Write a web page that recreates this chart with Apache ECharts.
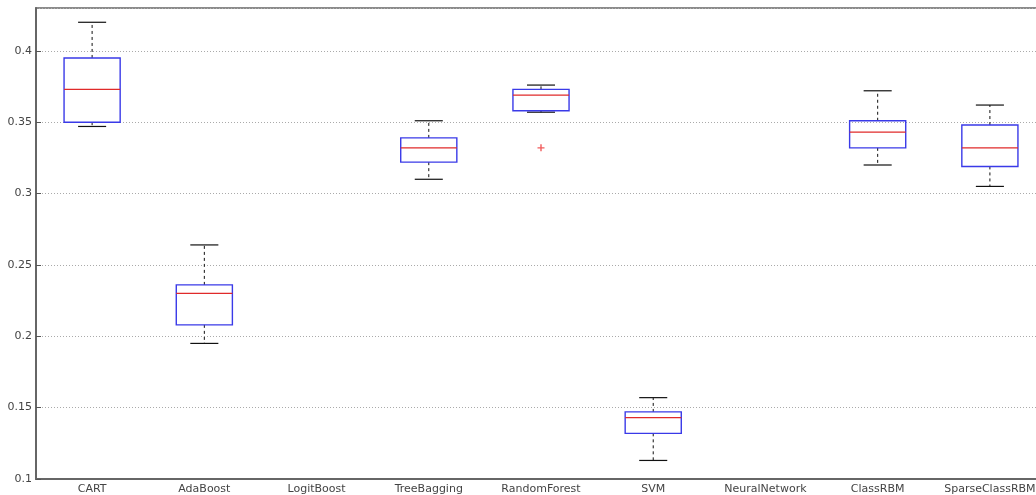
<!DOCTYPE html>
<html>
<head>
<meta charset="utf-8">
<script src="https://cdn.jsdelivr.net/npm/echarts@6/dist/echarts.min.js"></script>
<style>
  html, body { margin: 0; padding: 0; background: #fff; overflow: hidden; width: 1036px; height: 495px; }
  /* plot box runs a little past the right edge of the page */
  #chart { width: 1046px; height: 495px; }
</style>
</head>
<body>
<div id="chart"></div>
<script>
// Classifier error rates: five-number summaries per method
const categories = ['CART', 'AdaBoost', 'LogitBoost', 'TreeBagging', 'RandomForest', 'SVM', 'NeuralNetwork', 'ClassRBM', 'SparseClassRBM'];
const lowerWhisker = [0.347, 0.195, null, 0.310, 0.357, 0.113, null, 0.320, 0.305];
const q1           = [0.350, 0.208, null, 0.322, 0.358, 0.132, null, 0.332, 0.319];
const median       = [0.373, 0.230, null, 0.332, 0.369, 0.143, null, 0.343, 0.332];
const q3           = [0.395, 0.236, null, 0.339, 0.373, 0.147, null, 0.351, 0.348];
const upperWhisker = [0.420, 0.264, null, 0.351, 0.376, 0.157, null, 0.372, 0.362];
// outliers as [category index, value]
const outliers = [[4, 0.332]];
const yTicks = { min: 0.1, max: 0.43, step: 0.05 };

const boxData = [];
categories.forEach((c, i) => {
  if (median[i] == null) return;
  boxData.push([i, lowerWhisker[i], q1[i], median[i], q3[i], upperWhisker[i]]);
});

function renderBox(params, api) {
  const i = api.value(0);
  const pLo = api.coord([i, api.value(1)]);
  const pQ1 = api.coord([i, api.value(2)]);
  const pMed = api.coord([i, api.value(3)]);
  const pQ3 = api.coord([i, api.value(4)]);
  const pHi = api.coord([i, api.value(5)]);
  const band = api.size([1, 0])[0];
  const bw = band * 0.5;
  const cw = bw * 0.5;
  const cx = pMed[0];
  const dash = { stroke: '#111', lineWidth: 1, lineDash: [3, 3] };
  const solid = { stroke: '#111', lineWidth: 1.2 };
  return {
    type: 'group',
    children: [
      { type: 'line', shape: { x1: cx, y1: pQ3[1], x2: cx, y2: pHi[1] }, style: dash },
      { type: 'line', shape: { x1: cx, y1: pQ1[1], x2: cx, y2: pLo[1] }, style: dash },
      { type: 'line', shape: { x1: cx - cw / 2, y1: pHi[1], x2: cx + cw / 2, y2: pHi[1] }, style: solid },
      { type: 'line', shape: { x1: cx - cw / 2, y1: pLo[1], x2: cx + cw / 2, y2: pLo[1] }, style: solid },
      { type: 'rect', shape: { x: cx - bw / 2, y: pQ3[1], width: bw, height: pQ1[1] - pQ3[1] },
        style: { fill: 'none', stroke: '#3a3ae8', lineWidth: 1.4 } },
      { type: 'line', shape: { x1: cx - bw / 2, y1: pMed[1], x2: cx + bw / 2, y2: pMed[1] },
        style: { stroke: '#e02a2a', lineWidth: 1.2 } }
    ]
  };
}

const chart = echarts.init(document.getElementById('chart'), null, { renderer: 'canvas' });
const labelFont = { fontFamily: 'DejaVu Sans, sans-serif', fontSize: 11, color: '#444' };

chart.setOption({
  backgroundColor: '#fff',
  animation: false,
  grid: {
    left: 36, right: 0, top: 8, bottom: 16,
    show: true, borderColor: '#666', borderWidth: 1.5, backgroundColor: 'transparent'
  },
  xAxis: {
    type: 'category',
    data: categories,
    axisLine: { lineStyle: { color: '#666', width: 2 } },
    axisTick: { show: false },
    axisLabel: Object.assign({ margin: 5, interval: 0 }, labelFont),
    splitLine: { show: false }
  },
  yAxis: {
    type: 'value',
    min: yTicks.min, max: yTicks.max, interval: yTicks.step,
    axisLine: { show: true, lineStyle: { color: '#666', width: 2 } },
    axisTick: { show: true, inside: true, length: 5, lineStyle: { color: '#555' } },
    axisLabel: Object.assign({ margin: 4, showMaxLabel: false }, labelFont),
    splitLine: { show: true, lineStyle: { color: '#aaa', type: [1, 2], width: 1 } }
  },
  series: [
    {
      type: 'custom',
      renderItem: renderBox,
      data: boxData,
      encode: { x: 0, y: [1, 2, 3, 4, 5] },
      z: 5
    },
    {
      type: 'scatter',
      data: outliers,
      symbol: 'path://M4,0H6V4H10V6H6V10H4V6H0V4H4Z',
      symbolSize: 7,
      itemStyle: { color: '#e33' },
      z: 6
    }
  ]
});
</script>
</body>
</html>
